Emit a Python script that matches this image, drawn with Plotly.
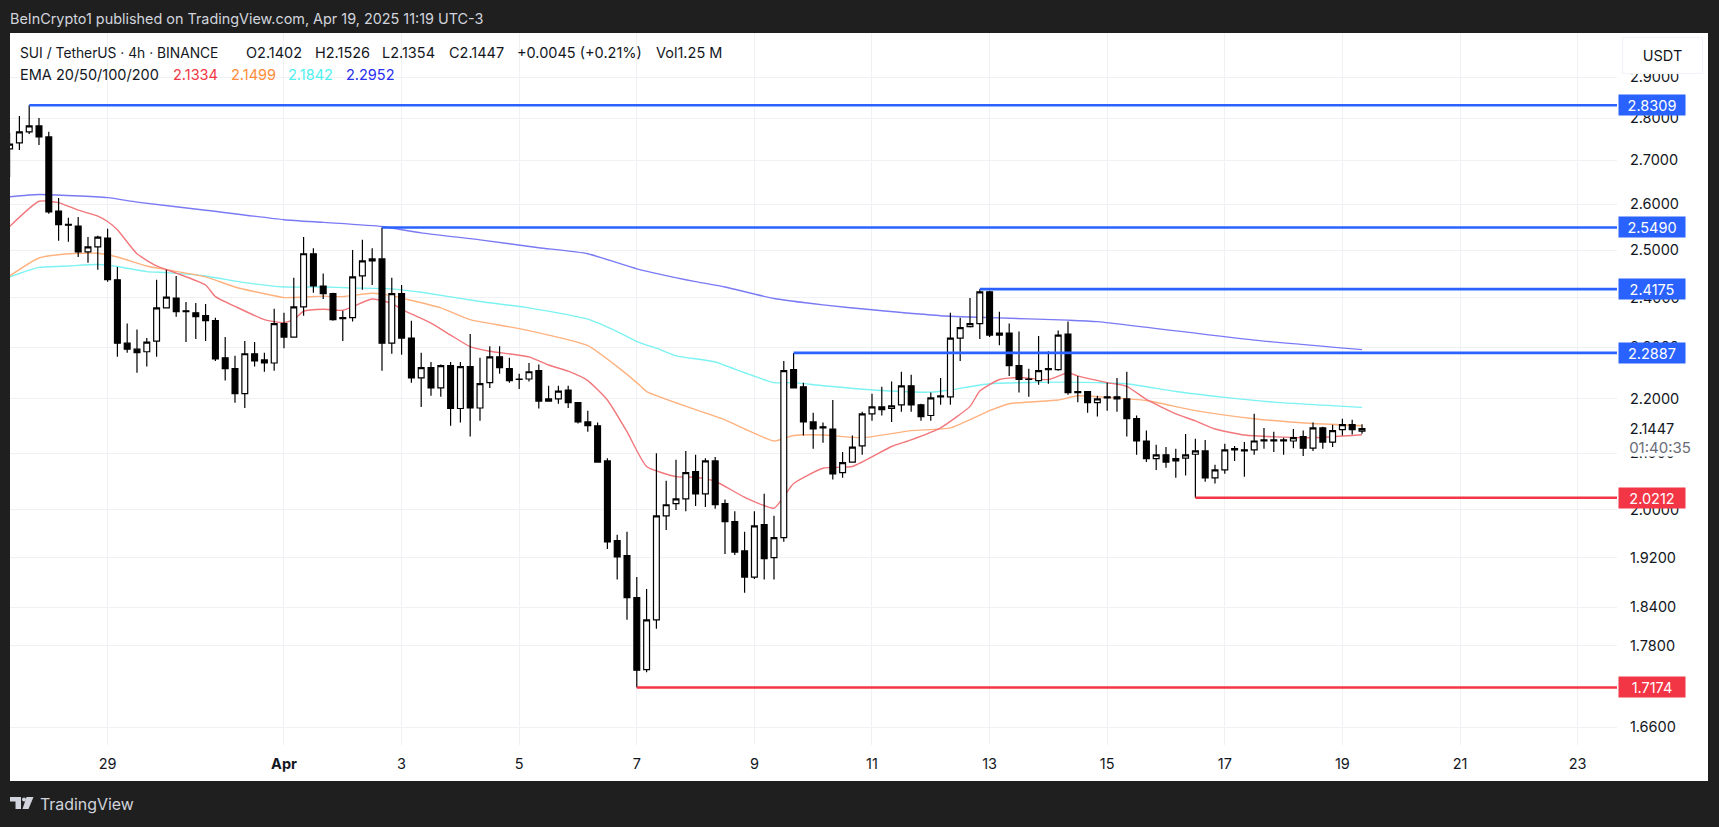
import numpy as np
import pandas as pd
import plotly.graph_objects as go

W = 1719
H = 827
FONT = "Inter"

# 4h candles, first one is 2025-03-27 08:00
o = [2.727,2.741,2.767,2.781,2.755,2.585,2.556,2.552,2.496,2.507,2.526,2.437,2.308,2.296,2.291,2.312,2.379,2.399,2.373,2.369,
     2.363,2.353,2.279,2.258,2.21,2.287,2.275,2.269,2.347,2.32,2.381,2.492,2.424,2.408,2.359,2.359,2.445,2.477,2.481,2.308,
     2.408,2.318,2.24,2.26,2.221,2.264,2.182,2.262,2.183,2.231,2.281,2.258,2.238,2.238,2.254,2.2,2.2,2.217,2.193,2.157,
     2.15,2.086,1.948,1.923,1.855,1.744,1.82,1.99,2.011,2.019,2.067,2.028,2.086,2.011,1.98,1.931,1.888,1.975,1.92,1.953,
     2.256,2.223,2.157,2.148,2.144,2.065,2.084,2.113,2.172,2.185,2.182,2.189,2.225,2.189,2.169,2.204,2.204,2.318,2.341,2.347,
     2.412,2.328,2.328,2.264,2.238,2.235,2.256,2.256,2.326,2.214,2.214,2.193,2.204,2.204,2.2,2.163,2.122,2.09,2.097,2.086,
     2.091,2.098,2.104,2.056,2.07,2.106,2.106,2.106,2.122,2.124,2.122,2.122,2.13,2.109,2.146,2.12,2.143,2.152,2.1402]
h = [2.764,2.805,2.8309,2.80,2.767,2.614,2.57,2.572,2.528,2.531,2.546,2.464,2.347,2.335,2.318,2.437,2.458,2.445,2.391,2.389,
     2.387,2.359,2.32,2.283,2.312,2.31,2.289,2.377,2.369,2.441,2.528,2.504,2.45,2.41,2.373,2.5,2.522,2.504,2.549,2.441,
     2.426,2.353,2.289,2.271,2.266,2.271,2.271,2.326,2.279,2.302,2.302,2.279,2.248,2.269,2.266,2.225,2.225,2.225,2.194,2.178,
     2.156,2.091,1.958,1.963,1.888,1.869,2.1,2.051,2.088,2.104,2.097,2.091,2.093,2.018,1.998,1.963,1.998,2.028,1.99,2.273,
     2.2887,2.231,2.174,2.156,2.198,2.102,2.132,2.176,2.21,2.223,2.233,2.252,2.246,2.191,2.212,2.24,2.369,2.359,2.399,2.4175,
     2.414,2.371,2.347,2.331,2.258,2.322,2.292,2.333,2.351,2.244,2.215,2.206,2.231,2.24,2.252,2.169,2.141,2.115,2.111,2.108,
     2.135,2.126,2.124,2.079,2.117,2.113,2.12,2.172,2.146,2.139,2.128,2.144,2.141,2.156,2.148,2.152,2.163,2.161,2.1526]
l = [2.662,2.724,2.762,2.736,2.579,2.52,2.518,2.485,2.473,2.458,2.433,2.281,2.289,2.25,2.262,2.281,2.379,2.361,2.31,2.316,
     2.312,2.273,2.235,2.193,2.183,2.262,2.252,2.254,2.298,2.32,2.363,2.41,2.397,2.353,2.312,2.351,2.416,2.426,2.254,2.287,
     2.285,2.231,2.185,2.206,2.204,2.15,2.156,2.13,2.159,2.221,2.248,2.231,2.219,2.233,2.182,2.196,2.191,2.183,2.154,2.139,
     2.083,1.934,1.884,1.82,1.7174,1.74,1.806,1.966,2.0,1.998,2.007,2.005,2.002,1.926,1.924,1.863,1.885,1.884,1.884,1.946,
     2.221,2.132,2.108,2.119,2.053,2.056,2.084,2.097,2.159,2.169,2.157,2.176,2.176,2.159,2.159,2.189,2.189,2.273,2.339,2.316,
     2.32,2.304,2.244,2.212,2.204,2.227,2.229,2.254,2.208,2.194,2.174,2.167,2.178,2.176,2.13,2.097,2.084,2.07,2.074,2.056,
     2.06,2.0212,2.049,2.046,2.063,2.086,2.058,2.097,2.108,2.102,2.097,2.109,2.095,2.104,2.108,2.111,2.132,2.134,2.1354]
c = [2.738,2.767,2.781,2.755,2.583,2.555,2.554,2.496,2.507,2.528,2.437,2.308,2.296,2.289,2.31,2.379,2.401,2.371,2.371,2.361,
     2.353,2.277,2.258,2.21,2.287,2.273,2.269,2.347,2.32,2.381,2.492,2.424,2.408,2.355,2.357,2.443,2.477,2.481,2.308,2.408,
     2.318,2.24,2.26,2.221,2.264,2.182,2.262,2.183,2.229,2.281,2.26,2.235,2.237,2.252,2.196,2.196,2.215,2.193,2.157,2.15,
     2.084,1.946,1.921,1.855,1.743,1.82,1.99,2.009,2.019,2.065,2.028,2.086,2.009,1.98,1.929,1.888,1.973,1.918,1.953,2.254,
     2.221,2.157,2.144,2.146,2.063,2.083,2.111,2.172,2.185,2.18,2.187,2.225,2.189,2.167,2.202,2.206,2.318,2.339,2.347,2.412,
     2.324,2.324,2.264,2.237,2.237,2.254,2.258,2.324,2.212,2.212,2.193,2.2,2.202,2.2,2.163,2.122,2.09,2.097,2.084,2.09,
     2.097,2.104,2.056,2.07,2.106,2.108,2.104,2.122,2.124,2.122,2.124,2.128,2.109,2.146,2.12,2.141,2.152,2.143,2.1447]

# EMA readings, candle number counted from Apr 1 00:00
ema20_k = [-28,-25,-23,-21,-19,-18,-17,-15,-13,-11,-8,-7,-5,-2,0,1,2,4,6,9,11,12,15,17,19,21,25,27,29,31,33,35,37,40,42,44,47,50,51,52,55,58,62,64,67,70,71,73,75,78,80,81,84,86,88,91,93,95,98,102,105,110]
ema20 = [2.551,2.607,2.604,2.587,2.574,2.562,2.544,2.492,2.466,2.451,2.426,2.402,2.382,2.355,2.349,2.355,2.372,2.376,2.374,2.397,2.388,2.376,2.348,2.324,2.301,2.292,2.281,2.265,2.253,2.235,2.198,2.139,2.076,2.058,2.057,2.05,2.022,2.003,2.023,2.046,2.073,2.076,2.112,2.124,2.146,2.186,2.215,2.237,2.241,2.237,2.25,2.244,2.231,2.224,2.199,2.172,2.159,2.144,2.133,2.129,2.128,2.1334]
ema50_k = [-28,-25,-22,-19,-17,-14,-12,-8,-5,-2,0,4,6,9,11,12,16,19,24,27,31,34,36,37,42,45,47,50,52,55,59,64,68,72,74,79,81,84,88,93,99,105,110]
ema50 = [2.445,2.483,2.492,2.493,2.485,2.466,2.458,2.443,2.422,2.408,2.4,2.403,2.402,2.409,2.404,2.399,2.379,2.355,2.337,2.324,2.303,2.262,2.231,2.214,2.18,2.161,2.144,2.122,2.132,2.133,2.128,2.141,2.146,2.178,2.191,2.198,2.206,2.203,2.197,2.178,2.163,2.154,2.1499]
ema100_k = [-28,-25,-22,-19,-17,-14,-12,-8,-4,0,4,7,11,14,20,25,31,34,36,38,40,44,47,50,52,55,61,66,68,72,80,83,86,91,96,101,110]
ema100 = [2.443,2.463,2.466,2.469,2.465,2.454,2.452,2.445,2.431,2.422,2.422,2.42,2.418,2.411,2.392,2.379,2.356,2.331,2.311,2.298,2.283,2.271,2.25,2.231,2.231,2.225,2.216,2.213,2.217,2.229,2.232,2.231,2.229,2.214,2.203,2.194,2.1842]
ema200_k = [-28,-25,-18,-15,-8,0,4,10,14,20,26,31,36,42,45,50,55,60,67,72,80,83,99,110]
ema200 = [2.617,2.622,2.615,2.605,2.587,2.566,2.56,2.551,2.537,2.522,2.505,2.492,2.46,2.433,2.422,2.398,2.385,2.375,2.363,2.359,2.354,2.351,2.314,2.2952]

levels = [2.8309, 2.5490, 2.4175, 2.2887, 2.0212, 1.7174]
level_k = [-26, 10, 71, 52, 93, 36]
level_colors = ["#2962ff", "#2962ff", "#2962ff", "#2962ff", "#f23645", "#f23645"]

y_ticks = [2.9, 2.8, 2.7, 2.6, 2.5, 2.4, 2.3, 2.2, 2.1, 2.0, 1.92, 1.84, 1.78, 1.66]
x_tick_days = ["2025-03-29", "2025-04-01", "2025-04-03", "2025-04-05", "2025-04-07", "2025-04-09", "2025-04-11",
               "2025-04-13", "2025-04-15", "2025-04-17", "2025-04-19", "2025-04-21", "2025-04-23"]
x_tick_text = ["29", "<b>Apr</b>", "3", "5", "7", "9", "11", "13", "15", "17", "19", "21", "23"]

times = pd.date_range("2025-03-27 08:00", periods=len(o), freq="4h")
x_range = ["2025-03-27 08:10", "2025-04-23 16:05"]
y_range = [np.log10(1.6346), np.log10(3.012)]


def at_k(ks):
    return times[np.array(ks) + 28]


def px(x):
    return x / W


def py(y):
    return 1 - y / H


fig = go.Figure()

# EMAs go on the base axes so the candles cover them
for ks, vals, col in [(ema200_k, ema200, "#7a7af5"), (ema100_k, ema100, "#7df2f2"),
                      (ema50_k, ema50, "#ffb27f"), (ema20_k, ema20, "#f2777c")]:
    fig.add_trace(go.Scatter(x=at_k(ks), y=vals, mode="lines", hoverinfo="skip",
                             line=dict(color=col, width=1.4, shape="spline", smoothing=0.5)))

fig.add_trace(go.Candlestick(
    x=times, open=o, high=h, low=l, close=c, xaxis="x2", yaxis="y2", whiskerwidth=0,
    increasing=dict(fillcolor="white", line=dict(color="#000000", width=1.2)),
    decreasing=dict(fillcolor="#000000", line=dict(color="#000000", width=1.2)),
))

for lev, k, col in zip(levels, level_k, level_colors):
    fig.add_trace(go.Scatter(x=[times[k + 28], x_range[1]], y=[lev, lev], mode="lines", xaxis="x3", yaxis="y3",
                             line=dict(color=col, width=2.6), hoverinfo="skip"))

notes = []


def text(x, y, s, size=14.5, color="#131722", **kw):
    notes.append(dict(xref="paper", yref="paper", x=px(x), y=py(y), text=s, showarrow=False, xanchor="left",
                      yanchor="middle", font=dict(family=FONT, size=size, color=color), **kw))


text(8, 19, "BeInCrypto1 published on TradingView.com, Apr 19, 2025 11:19 UTC-3", size=14.4, color="#d1d4dc")
legend_top = [(18, "SUI / TetherUS · 4h · BINANCE", 13.8), (244, "O2.1402", 14.5), (313, "H2.1526", 14.5),
              (380, "L2.1354", 14.5), (447, "C2.1447", 14.5), (515, "+0.0045 (+0.21%)", 14.5), (654, "Vol1.25 M", 14.5)]
for x, s, size in legend_top:
    text(x, 53, s, size=size)
legend_ema = [(18, "EMA 20/50/100/200", "#131722"), (170.5, "2.1334", "#f23645"), (228.5, "2.1499", "#ff8c38"),
              (286, "2.1842", "#4ff0f0"), (344, "2.2952", "#2a2ef0")]
for x, s, col in legend_ema:
    text(x, 75, s, color=col)
text(38, 804, "TradingView", size=15.9, color="#d1d4dc")

# price labels on the scale, these sit over the tick labels
for lev, col in zip(levels, level_colors):
    notes.append(dict(xref="paper", yref="y3", x=px(1618), y=np.log10(lev), text=f"{lev:.4f}", showarrow=False,
                      xanchor="left", yanchor="middle", width=66, height=20, bgcolor=col, align="center", borderpad=0,
                      font=dict(family=FONT, size=14.5, color="white")))
notes.append(dict(xref="paper", yref="paper", x=px(1618), y=py(447), text="01:40:35", showarrow=False, xanchor="left",
                  yanchor="middle", width=82, height=18, bgcolor="white", borderpad=0, align="center",
                  font=dict(family=FONT, size=15, color="#6a6d78")))
notes.append(dict(xref="paper", yref="y3", x=px(1618), y=np.log10(2.1447), text="2.1447", showarrow=False,
                  xanchor="left", yanchor="middle", width=66, height=17, bgcolor="white", borderpad=0, align="center",
                  font=dict(family=FONT, size=14.5, color="#131722")))
notes.append(dict(xref="paper", yref="paper", x=px(1622), y=py(55.5), text="USDT", showarrow=False, xanchor="left",
                  yanchor="middle", width=79, height=35, bgcolor="white", bordercolor="#f0f3fa", borderwidth=1,
                  borderpad=0, align="center", font=dict(family=FONT, size=14.5, color="#131722")))

# white chart card and the small TradingView logo
shapes = [dict(type="rect", xref="paper", yref="paper", x0=px(10), x1=px(1708), y0=py(781), y1=py(33),
               fillcolor="white", line=dict(width=0), layer="below")]
logo = [[(10, 797), (21, 797), (21, 809), (15.5, 809), (15.5, 801.5), (10, 801.5)],
        [(26.5, 797), (33.5, 797), (28.5, 809), (22.5, 809)]]
for poly in logo:
    d = "M " + " L ".join(f"{px(a):.5f},{py(b):.5f}" for a, b in poly) + " Z"
    shapes.append(dict(type="path", xref="paper", yref="paper", path=d, fillcolor="#d1d4dc", line=dict(width=0)))
shapes.append(dict(type="circle", xref="paper", yref="paper", x0=px(22), x1=px(26), y0=py(801.5), y1=py(797.5),
                   fillcolor="#d1d4dc", line=dict(width=0)))

x_dom = [px(10), px(1617)]
y_dom = [py(745), py(33)]
hidden = dict(domain=x_dom, range=x_range, type="date", visible=False, rangeslider=dict(visible=False))
hidden_y = dict(domain=y_dom, range=y_range, type="log", visible=False, side="right")

fig.update_layout(
    width=W, height=H, margin=dict(l=0, r=0, t=0, b=0), showlegend=False, hovermode=False,
    boxgap=0.15, boxgroupgap=0.3,
    paper_bgcolor="#1f1f1f", plot_bgcolor="white", font=dict(family=FONT, size=14.5, color="#131722"),
    xaxis=dict(domain=x_dom, range=x_range, type="date", tickvals=x_tick_days, ticktext=x_tick_text, showgrid=True,
               gridcolor="#f0f1f4", gridwidth=1, zeroline=False, showline=False, ticks="outside", ticklen=6,
               tickcolor="white", rangeslider=dict(visible=False)),
    yaxis=dict(domain=y_dom, range=y_range, type="log", side="right", tickvals=y_ticks,
               ticktext=[f"{v:.4f}" for v in y_ticks], showgrid=True, gridcolor="#f0f1f4", gridwidth=1, zeroline=False,
               showline=False, ticks="outside", ticklen=9, tickcolor="white"),
    xaxis2=dict(hidden, overlaying="x", anchor="y2"),
    yaxis2=dict(hidden_y, overlaying="y", anchor="x2"),
    xaxis3=dict(hidden, overlaying="x", anchor="y3"),
    yaxis3=dict(hidden_y, overlaying="y", anchor="x3"),
    annotations=notes, shapes=shapes,
)

fig.write_html("out.html", config=dict(displayModeBar=False),
               post_script="document.body.style.margin='0';document.body.style.background='#1f1f1f';")
